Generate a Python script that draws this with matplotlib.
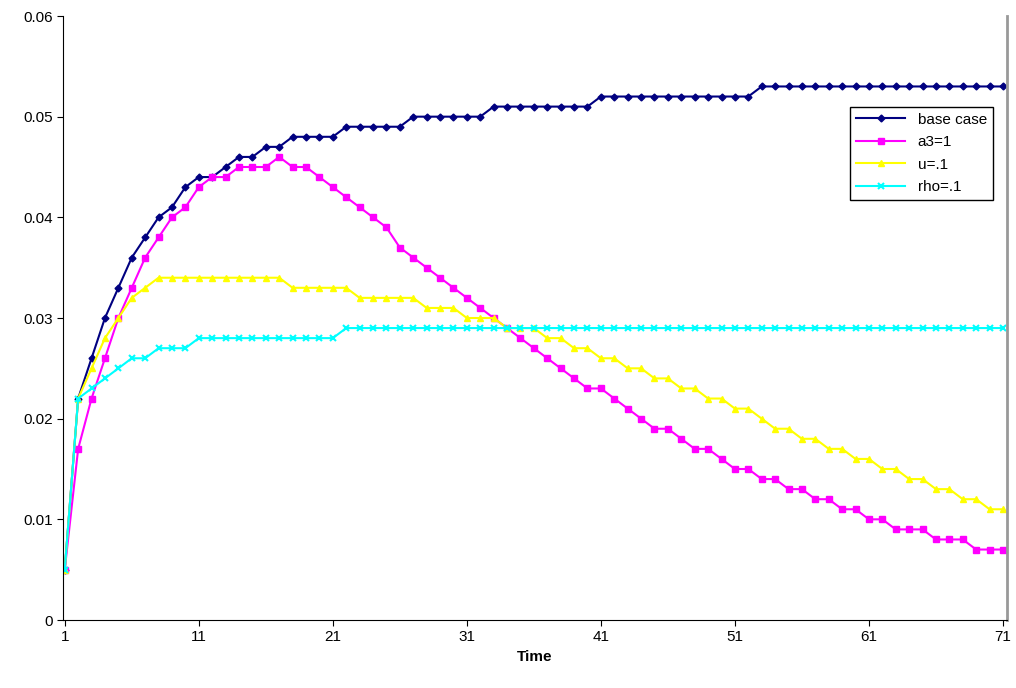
import matplotlib.pyplot as plt
from matplotlib.ticker import FuncFormatter

plt.rcParams['font.family'] = ['Liberation Sans', 'DejaVu Sans']

time = list(range(1, 72))

base_case = [.005, .022, .026, .030, .033, .036, .038, .040, .041, .043,
             .044, .044, .045, .046, .046, .047, .047, .048, .048, .048,
             .048] + [.049] * 5 + [.050] * 6 + [.051] * 8 + [.052] * 12 + [.053] * 19

a3 = [.005, .017, .022, .026, .030, .033, .036, .038, .040, .041,
      .043, .044, .044, .045, .045, .045, .046, .045, .045, .044,
      .043, .042, .041, .040, .039, .037, .036, .035, .034, .033,
      .032, .031, .030, .029, .028, .027, .026, .025, .024, .023,
      .023, .022, .021, .020, .019, .019, .018, .017, .017, .016,
      .015, .015, .014, .014, .013, .013, .012, .012, .011, .011,
      .010, .010, .009, .009, .009, .008, .008, .008, .007, .007, .007]

u = [.005, .022, .025, .028, .030, .032, .033] + [.034] * 10 + [.033] * 5 + \
    [.032] * 5 + [.031] * 3 + [.030] * 3 + [.029] * 3 + \
    [.028, .028, .027, .027, .026, .026, .025, .025, .024, .024,
     .023, .023, .022, .022, .021, .021, .020, .019, .019, .018,
     .018, .017, .017, .016, .016, .015, .015, .014, .014, .013,
     .013, .012, .012, .011, .011]

rho = [.005, .022, .023, .024, .025, .026, .026, .027, .027, .027] + \
      [.028] * 11 + [.029] * 50

fig = plt.figure(figsize=(10.16, 6.88), dpi=100)
ax = fig.add_axes([63 / 1016, 1 - 620 / 688, 944 / 1016, 604 / 688])

ax.plot(time, base_case, color='#000080', marker='D', ms=3.5, lw=1.5, label='base case')
ax.plot(time, a3, color='#ff00ff', marker='s', ms=4, lw=1.5, label='a3=1')
ax.plot(time, u, color='#ffff00', marker='^', ms=4, lw=1.5, label='u=.1')
ax.plot(time, rho, color='#00ffff', marker='x', ms=4, mew=1.5, lw=1.5, label='rho=.1')

ax.set_xlim(0.87, 71.3)
ax.set_ylim(0, 0.06)
ax.set_xticks(range(1, 72, 10))
ax.set_yticks([0, .01, .02, .03, .04, .05, .06])
ax.yaxis.set_major_formatter(FuncFormatter(lambda v, p: '0' if v == 0 else f'{v:.2f}'))
ax.tick_params(labelsize=11, direction='out', length=4)
ax.set_xlabel('Time', fontsize=11, fontweight='bold')
ax.spines['top'].set_visible(False)
ax.spines['right'].set_color('#999999')
ax.spines['right'].set_linewidth(2)

ax.legend(loc='upper left', bbox_to_anchor=(0.834, 0.85), fontsize=11, frameon=True,
          fancybox=False, edgecolor='black', framealpha=1, borderaxespad=0,
          handlelength=3.2, labelspacing=0.55)

fig.savefig('out.png', dpi=100)
